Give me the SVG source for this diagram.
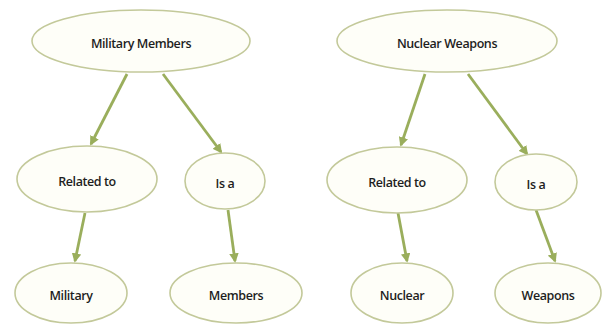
<svg xmlns="http://www.w3.org/2000/svg" width="611" height="327" viewBox="0 0 611 327">
<style>
.n{fill:#fefef8;stroke:#c3c99a;stroke-width:1.6}
.t{font-family:"Open Sans","Liberation Sans",sans-serif;font-size:12.5px;font-weight:600;fill:#1e1e1e;text-anchor:middle;dominant-baseline:central;letter-spacing:-0.4px}
.c{stroke:#9aae5c;stroke-width:2.8;fill:none;marker-end:url(#ah)}
</style>
<defs>
<marker id="ah" viewBox="0 0 10 10" refX="8" refY="5" markerWidth="3.4" markerHeight="3.4" orient="auto" markerUnits="strokeWidth">
<path d="M0,0 L10,5 L0,10 z" fill="#9aae5c"/>
</marker>
</defs>
<rect width="611" height="327" fill="#ffffff"/>
<g id="connectors">
<line class="c" x1="127" y1="74" x2="91" y2="144"/>
<line class="c" x1="163" y1="74" x2="221" y2="152"/>
<line class="c" x1="425" y1="74" x2="401" y2="145"/>
<line class="c" x1="468" y1="74" x2="527" y2="154"/>
<line class="c" x1="85" y1="213" x2="75" y2="261"/>
<line class="c" x1="228" y1="210" x2="235" y2="261"/>
<line class="c" x1="398" y1="213" x2="407" y2="261"/>
<line class="c" x1="536" y1="210" x2="555" y2="261"/>
</g>
<g id="military-members"><ellipse class="n" cx="141" cy="41" rx="109" ry="31"/><text class="t" x="141" y="43">Military Members</text></g>
<g id="nuclear-weapons"><ellipse class="n" cx="447" cy="41" rx="110" ry="31"/><text class="t" x="447" y="43">Nuclear Weapons</text></g>
<g id="related-to-1"><ellipse class="n" cx="87" cy="179" rx="70" ry="33"/><text class="t" x="87" y="181">Related to</text></g>
<g id="is-a-1"><ellipse class="n" cx="225" cy="181" rx="40" ry="28"/><text class="t" x="225" y="183">Is a</text></g>
<g id="related-to-2"><ellipse class="n" cx="397" cy="180" rx="70" ry="33"/><text class="t" x="397" y="182">Related to</text></g>
<g id="is-a-2"><ellipse class="n" cx="536" cy="182" rx="41" ry="28"/><text class="t" x="536" y="184">Is a</text></g>
<g id="military"><ellipse class="n" cx="71" cy="293" rx="56" ry="30"/><text class="t" x="71" y="295">Military</text></g>
<g id="members"><ellipse class="n" cx="236" cy="293" rx="66" ry="30"/><text class="t" x="236" y="295">Members</text></g>
<g id="nuclear"><ellipse class="n" cx="402" cy="293" rx="51" ry="30"/><text class="t" x="402" y="295">Nuclear</text></g>
<g id="weapons"><ellipse class="n" cx="548" cy="293" rx="53" ry="30"/><text class="t" x="548" y="295">Weapons</text></g>
</svg>
